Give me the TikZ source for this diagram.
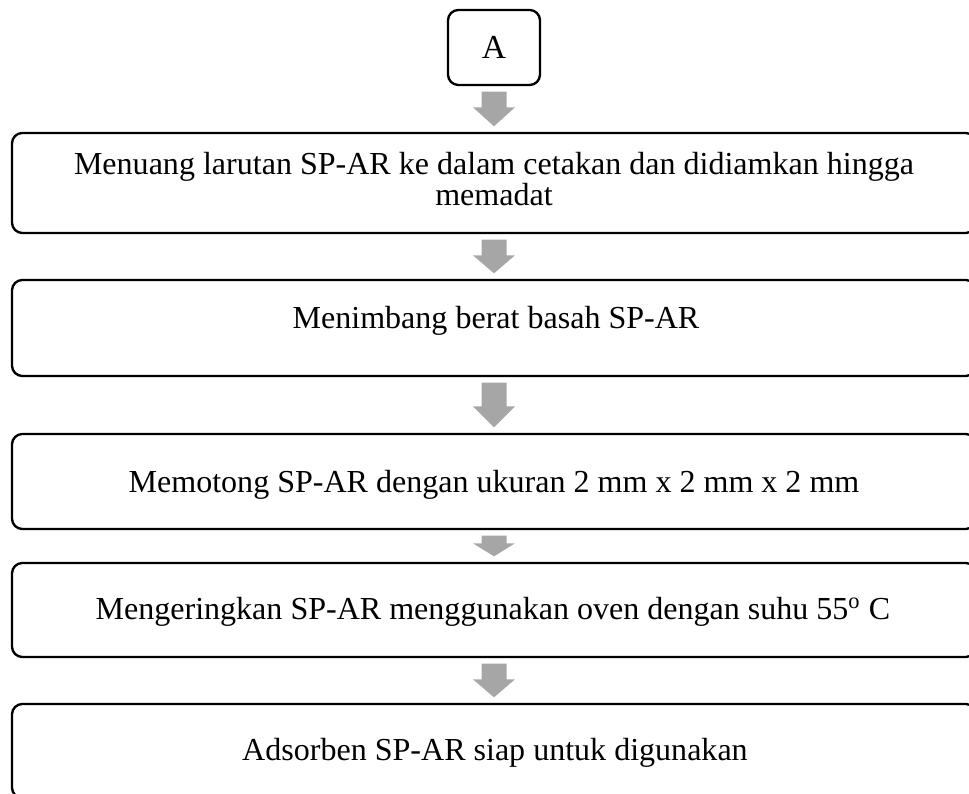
\documentclass[tikz,border=0pt]{standalone}
\usepackage{fontspec}
\setmainfont{Liberation Serif}
\usetikzlibrary{calc}
\definecolor{arrowgray}{RGB}{166,166,166}
\newcommand{\pxu}{0.387pt}

\begin{document}
\begin{tikzpicture}[x=0.387pt, y=-0.387pt,
    stepbox/.style={draw, line width=0.9pt, rounded corners=4pt, minimum width=964*\pxu, inner sep=0pt},
    steptext/.style={anchor=base, inner sep=0pt, font=\fontsize{12.4pt}{14pt}\selectfont}]
    \useasboundingbox (0,0) rectangle (969,794);
    \clip (0,0) rectangle (969,794);

    % boxes
    \node[stepbox, minimum width=92*\pxu, minimum height=75*\pxu, font=\fontsize{13pt}{15pt}\selectfont] (boxA) at (494,47.5) {A};
    \node[stepbox, minimum height=100*\pxu] (s1) at (494,183) {};
    \node[stepbox, minimum height=96*\pxu] (s2) at (494,328) {};
    \node[stepbox, minimum height=95*\pxu] (s3) at (494,481.5) {};
    \node[stepbox, minimum height=94*\pxu] (s4) at (494,610) {};
    \node[stepbox, minimum height=94*\pxu] (s5) at (494,751) {};

    % texts
    \node[steptext] (t1a) at (494,175) {Menuang larutan SP-AR ke dalam cetakan dan didiamkan hingga};
    \node[steptext] (t1b) at (494,206) {memadat};
    \node[steptext] (t2) at (496,329) {Menimbang berat basah SP-AR};
    \node[steptext] (t3) at (494,493) {Memotong SP-AR dengan ukuran 2 mm x 2 mm x 2 mm};
    \node[steptext] (t4) at (493,620) {Mengeringkan SP-AR menggunakan oven dengan suhu 55\textsuperscript{o} C};
    \node[steptext] (t5) at (495,761) {Adsorben SP-AR siap untuk digunakan};

    % block arrows
    \foreach \u/\v/\h in {boxA/s1/19, s1/s2/18, s2/s3/21, s3/s4/13, s4/s5/18}
        \fill[arrowgray] ($(\u.south)+(-12.5,5.5)$) -- ($(\u.south)+(12.5,5.5)$)
            -- ($(\v.north)+(12.5,-5.5-\h)$) -- ($(\v.north)+(21,-5.5-\h)$)
            -- ($(\v.north)+(0,-5.5)$) -- ($(\v.north)+(-21,-5.5-\h)$)
            -- ($(\v.north)+(-12.5,-5.5-\h)$) -- cycle;
\end{tikzpicture}
\end{document}
